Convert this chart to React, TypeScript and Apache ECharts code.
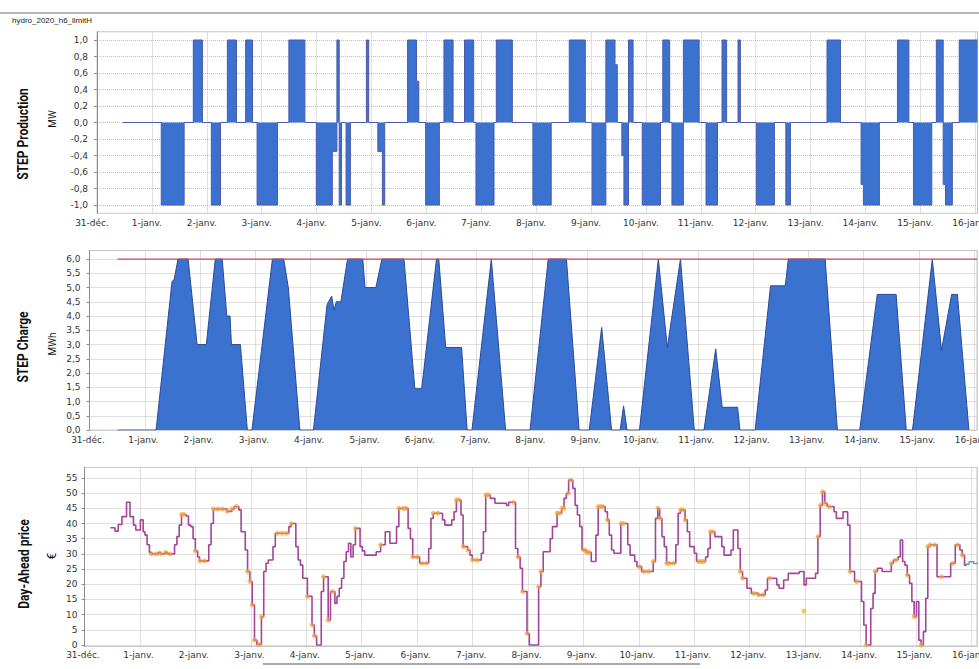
import React, { useEffect, useRef } from 'react';
import * as echarts from 'echarts';

// ---- tick labels ----
const dayLabels = [
  '31-déc.', '1-janv.', '2-janv.', '3-janv.', '4-janv.', '5-janv.', '6-janv.', '7-janv.',
  '8-janv.', '9-janv.', '10-janv.', '11-janv.', '12-janv.', '13-janv.', '14-janv.', '15-janv.', '16-janv.',
];
const productionTicks = [-1, -0.8, -0.6, -0.4, -0.2, 0, 0.2, 0.4, 0.6, 0.8, 1];
const chargeTicks = [0, 0.5, 1, 1.5, 2, 2.5, 3, 3.5, 4, 4.5, 5, 5.5, 6];
const priceTicks = [0, 5, 10, 15, 20, 25, 30, 35, 40, 45, 50, 55];

// ---- data: [hour since 31-déc. 00:00, value] (change points) ----
const productionData: [number, number][] = [
  [11.2, 0], [28.1, -1], [38.1, 0], [42.1, 1], [46.1, 0], [50, -1], [54, 0], [57, 1], [61, 0],
  [65, 1], [68, 0], [70, -1], [78.9, 0], [83.9, 1], [90.9, 0], [95.9, -1], [102.9, -0.35],
  [104.9, 1], [105.9, -1], [106.9, 0], [108.9, -1], [110.8, 0], [117.8, 1], [118.8, 0],
  [122.8, -0.35], [124.8, -1], [125.8, 0], [135.8, 1], [139.7, 0.5], [140.7, 0], [143.7, -1],
  [149.7, 0], [151.7, 1], [155.7, 0], [160.7, 1], [164.7, 0], [165.7, -1], [173.6, 0], [174.6, 1],
  [181.6, 0], [190.6, -1], [198.6, 0], [206.5, 1], [213.5, 0], [216.5, -1], [222.5, 1], [226.5, 0.7],
  [227.5, 0], [229.5, -0.4], [230.4, -1], [232.4, 1], [234.4, 0], [238.4, -1], [246.4, 0], [247.4, 1],
  [250.4, 0], [251.4, -1], [256.4, 1], [263.3, 0], [266.3, -1], [271.3, 0], [273.3, 1], [275.3, 0],
  [280.3, 1], [281.3, 0], [288.3, -1], [296.2, 0], [301.2, -1], [303.2, 0], [319.2, 1], [325.1, 0],
  [334.1, -0.75], [335.1, -1], [342.1, 0], [350, 1], [355, 0], [357, -1], [365, 0], [367, 1],
  [370, -0.75], [371, -1], [374, 0], [377, 1], [385, 1],
];

const chargeData: [number, number][] = [
  [12.1, 0], [28.9, 0], [35.8, 5.2], [36.8, 5.3], [38.4, 6], [42.8, 6], [46.7, 3], [50.7, 3],
  [54.6, 6], [57.6, 6], [59.6, 4], [61, 4], [61.6, 3], [65.5, 3], [68.5, 0], [70.5, 0], [79.4, 6],
  [84.3, 6], [86.3, 5], [91.3, 0], [97.2, 0], [103.1, 4.4], [105.1, 4.7], [106.1, 4.2], [107.1, 4.5],
  [109.1, 4.5], [112, 6], [118.6, 6], [119.6, 5], [124.3, 5], [126.9, 6], [136.5, 6], [141.2, 1.45],
  [144.2, 1.45], [150.6, 6], [151.6, 6], [154.6, 2.9], [161.5, 2.9], [163.9, 0], [166, 0], [174.4, 6],
  [180.6, 0], [191.2, 0], [199.1, 6], [207, 6], [212.5, 0], [216.9, 0], [222.3, 3.6], [226.6, 0],
  [230.3, 0], [231.8, 0.85], [233.3, 0], [238.7, 0], [246.9, 6], [250.8, 2.9], [256.5, 6], [262.5, 0],
  [266.7, 0], [271.8, 2.85], [274.6, 0.8], [281.3, 0.8], [282.3, 0], [288.9, 0], [295.6, 5.06],
  [302, 5.06], [303.3, 6], [319.3, 6], [324.6, 0], [334.3, 0], [341.9, 4.76], [350.1, 4.76],
  [354.5, 0], [357.2, 0], [365.8, 6], [369.8, 2.8], [374.2, 4.76], [376.7, 4.76], [381.7, 0],
];
const capacity = 6;
const capacityStart = 12.1;
const capacityEnd = 385.2;

const priceData: [number, number][] = [
  [11.2, 38.6], [13.2, 37.5], [14.6, 39.7], [16.2, 42.3], [18.2, 47], [19.7, 42.3], [21.2, 39.5],
  [22.2, 37.9], [24.2, 41.2], [25.4, 37.3], [26.2, 36.2], [27.1, 33], [28.1, 30.5], [29, 30],
  [32, 30.5], [33, 30], [35, 30.5], [36, 30], [39, 33], [40, 35.7], [41, 39.5], [42, 43], [44, 42.5],
  [45, 39.5], [46, 39], [47, 35], [48, 31], [49, 29], [49.8, 27.7], [53.8, 33], [54.8, 40],
  [55.8, 44.8], [61.8, 44], [63.8, 44.8], [64.8, 45.6], [66.8, 44.5], [67.8, 37.3], [69.6, 31.3],
  [70.6, 24.2], [71.6, 20.9], [72.6, 13.2], [73.6, 1.6], [74.6, 0.2], [76.6, 9.3], [77.6, 24.2],
  [78.6, 26.9], [79.6, 28], [81.6, 32.4], [82.6, 36.8], [88.5, 39], [89.5, 40], [91.5, 32.4],
  [92.5, 28], [93.5, 26.3], [94.5, 22], [96.5, 16], [98.5, 6.6], [99.5, 3], [100.5, 0], [102.5, 17.6],
  [103.5, 22.5], [105.5, 8.2], [106.5, 17.6], [108.4, 13.7], [109.3, 16], [110.3, 18.7], [111.3, 22],
  [112.3, 27.5], [113.3, 30.7], [114.3, 33.5], [115.3, 29], [116.3, 33], [117.3, 38.4], [119.3, 32.4],
  [120.3, 31], [121.3, 29.6], [126.3, 30.7], [128.2, 33], [130.2, 37.3], [132.2, 33.5], [135.1, 39],
  [136.1, 45], [140.1, 38.4], [141.1, 35], [142.1, 29], [145.1, 26.9], [149, 31.8], [150, 41.7],
  [151, 43.4], [155, 41.2], [156, 39.5], [159, 41.2], [160, 43.9], [161, 47.8], [163, 42.8],
  [163.9, 32.4], [165.9, 31.3], [166.9, 29.6], [167.9, 28], [171.8, 30.2], [172.7, 37.3],
  [173.7, 49.4], [175.7, 48.3], [177.7, 46.7], [182.7, 46], [183.7, 47], [186.6, 31.8], [187.6, 29],
  [188.6, 25.3], [189.6, 17.6], [191.6, 3.8], [192.6, 0], [196.6, 19.2], [197.6, 24.2], [198.6, 30.7],
  [201.6, 35], [202.6, 39], [204.6, 43.4], [206.6, 45], [207.6, 48.3], [208.6, 50], [209.6, 54.3],
  [211.4, 51.6], [212.4, 46], [213.4, 42.8], [214.4, 39], [215.4, 31.3], [217.4, 30.5], [219.4, 27.5],
  [221.4, 36.2], [222.4, 45.6], [225.4, 43.9], [226.4, 41.2], [227.2, 36.2], [228.2, 31.3],
  [229.2, 30.2], [232.2, 40], [235.2, 33], [236.2, 29.6], [238.2, 27.5], [239.2, 25.8], [241.2, 24.2],
  [246.2, 27.5], [247.2, 41.7], [248.2, 45], [249, 41.7], [250, 35.7], [251, 32.4], [252, 26.9],
  [256, 33], [257, 43.4], [258, 44.5], [260, 41.2], [261, 37.3], [262, 32.4], [264, 30.2], [265, 27.5],
  [268.9, 29], [269.9, 31.8], [270.9, 37.3], [272.9, 35.7], [275.9, 32.4], [276.9, 29.6], [279.9, 31.3],
  [280.9, 37.9], [282.9, 31.8], [283.9, 24.2], [284.9, 22], [286.8, 18.7], [288.7, 17], [291.7, 16.5],
  [294.7, 18.1], [295.7, 22], [299.7, 19.8], [300.7, 18.7], [302.7, 21.4], [304.7, 23.6], [309.5, 24.2],
  [311.5, 19.8], [312.5, 22], [316.5, 23.6], [317.5, 35.7], [318.5, 46], [319.5, 50.5], [320.5, 46.7],
  [321.5, 45.6], [324.5, 43.9], [325.5, 41.7], [328.4, 43.9], [330.4, 39.5], [331.4, 24.2],
  [333.4, 20.9], [336.4, 14.3], [337.4, 6.6], [338.4, 0], [340.4, 12], [341.4, 17], [342.3, 24.2],
  [343.3, 25.3], [345.3, 24.2], [349.3, 26.9], [350.2, 28], [352.2, 29], [353.2, 34.6], [354.2, 27.5],
  [355.2, 26.3], [356.2, 23], [357.2, 20.3], [358.2, 14.3], [359.2, 9.3], [360.2, 14.3], [361.2, 1.6],
  [362.2, 0], [363.2, 4.4], [364.2, 15.4], [365.1, 32.4], [366.1, 33], [369.1, 22.5], [375, 26.9],
  [377, 33], [379, 31.3], [380, 29.6], [381, 26.3], [382, 26.3],
];
const priceTailData: [number, number][] = [[381.5, 26.6], [383, 27.4], [385, 26.8], [386.4, 27.2]];
const priceMarkedHours = [
  29, 31, 33, 35, 37, 42, 43, 48, 50, 52, 55.8, 57.8, 59.8, 61.8, 63.8, 65.8, 70.6, 71.6, 72.6, 73.6,
  75.6, 76.6, 83.6, 85.6, 87.5, 89.5, 96.5, 98.5, 99.5, 103.5, 105.5, 107.4, 117.3, 128.2, 136.1,
  138.1, 139.1, 142.1, 144.1, 146.1, 148, 151, 153, 161, 162, 164, 166, 168, 170, 173.8, 174.8, 185.7,
  187.7, 189.7, 191.6, 196.6, 197.6, 204.6, 205.6, 206.6, 207.5, 209.5, 210.5, 216.4, 217.4, 218.4,
  222.4, 223.4, 224.4, 226.4, 232.3, 233.3, 240.2, 242.2, 244.2, 246.2, 248.2, 249.2, 252.1, 253.1,
  255.1, 258.1, 259.1, 260, 266, 267, 268, 271, 272, 283.9, 284.9, 289.8, 291.8, 293.8, 296.7, 317.6,
  318.6, 319.5, 320.5, 322.5, 331.4, 334.4, 338.4, 342.3, 349.3, 351.3, 356.2, 359.2, 362.2, 365.1,
  366.1, 368.1, 371, 376, 378, 380,
];
const strayPoints: [number, number][] = [[311.5, 11.2]];

// ---- helpers ----
function stepValueAt(data: [number, number][], h: number): number {
  let v = data[0][1];
  for (const [x, y] of data) {
    if (x <= h) v = y;
    else break;
  }
  return v;
}

const tickFont = { fontFamily: '"DejaVu Sans", Verdana, sans-serif', fontSize: 9, color: '#333' };
const titleFont = 'Roboto, "Noto Sans", sans-serif';
const gridLine = { show: true, lineStyle: { type: 'dotted' as const, color: '#c0c0c0', width: 1 } };
const dayFmt = (v: number) => {
  if (Math.abs(v % 24) > 1e-6) return '';
  const lbl = dayLabels[Math.round(v / 24)];
  return lbl === undefined ? '' : lbl;
};
const commaFmt = (v: number) => v.toFixed(1).replace('.', ',');

function xAxisCfg(gridIndex: number, max: number, margin: number, padding: number[]) {
  return {
    gridIndex,
    type: 'value' as const,
    min: 0,
    max,
    interval: 24,
    axisLine: { show: false },
    axisTick: { show: false },
    splitLine: gridLine,
    axisLabel: { ...tickFont, margin, formatter: dayFmt, padding },
  };
}
function yAxisCfg(gridIndex: number, min: number, max: number, ticks: number[], margin: number, fmt: (v: number) => string) {
  return {
    gridIndex,
    type: 'value' as const,
    min,
    max,
    axisLine: { show: true, lineStyle: { color: '#8c8c8c', width: 1 } },
    axisTick: { show: true, length: 3, customValues: ticks, lineStyle: { color: '#8c8c8c' } },
    axisLabel: { ...tickFont, margin, customValues: ticks, formatter: fmt },
    splitLine: gridLine,
  };
}

function vText(text: string, x: number, y: number, size: number, weight: string, squeeze: number) {
  return {
    type: 'text',
    x,
    y,
    rotation: Math.PI / 2,
    scaleX: squeeze,
    style: {
      text,
      fontFamily: titleFont,
      fontSize: size,
      fontWeight: weight,
      fill: '#111',
      align: 'center',
      verticalAlign: 'middle',
      textAlign: 'center',
      textVerticalAlign: 'middle',
    },
  };
}

export default function App() {
  const ref = useRef<HTMLDivElement>(null);
  useEffect(() => {
    if (!ref.current) return;
    const chart = echarts.init(ref.current, null, { renderer: 'svg' });
    const priceMarkers = priceMarkedHours.map((h) => [h, stepValueAt(priceData, h)]);
    const gridBase = { show: true, borderColor: '#c6c6c6', borderWidth: 1, backgroundColor: '#fff', outerBoundsMode: 'none', containLabel: false };
    const option: any = {
      animation: false,
      backgroundColor: '#fff',
      grid: [
        { ...gridBase, left: 97, top: 31.75, width: 880.5, height: 181.5 },
        { ...gridBase, left: 89.5, top: 250.5, width: 887.5, height: 179.6 },
        { ...gridBase, left: 84.5, top: 467.4, width: 892.5, height: 179.1 },
      ],
      xAxis: [
        xAxisCfg(0, 385, 5, [0, 10, 0, 0]),
        xAxisCfg(1, 385.2, 5, [0, 3, 0, 0]),
        xAxisCfg(2, 386.4, 4, [0, 3, 0, 0]),
      ],
      yAxis: [
        yAxisCfg(0, -1.1, 1.1, productionTicks, 9, commaFmt),
        yAxisCfg(1, 0, 6.3, chargeTicks, 9, commaFmt),
        yAxisCfg(2, -0.5, 58.5, priceTicks, 7, (v: number) => String(v)),
      ],
      series: [
        {
          type: 'line',
          xAxisIndex: 0,
          yAxisIndex: 0,
          step: 'end',
          data: productionData,
          showSymbol: false,
          symbol: 'none',
          lineStyle: { color: '#4a58ad', width: 1 },
          areaStyle: { color: '#3b72cf', opacity: 1 },
          silent: true,
        },
        {
          type: 'line',
          xAxisIndex: 1,
          yAxisIndex: 1,
          data: chargeData,
          showSymbol: false,
          symbol: 'none',
          lineStyle: { color: '#2b4a96', width: 1 },
          areaStyle: { color: '#3b72cf', opacity: 1 },
          silent: true,
        },
        {
          type: 'line',
          xAxisIndex: 1,
          yAxisIndex: 1,
          data: [[capacityStart, capacity], [capacityEnd, capacity]],
          showSymbol: false,
          symbol: 'none',
          lineStyle: { color: '#d4464c', width: 1.2 },
          silent: true,
          z: 3,
        },
        {
          type: 'line',
          xAxisIndex: 2,
          yAxisIndex: 2,
          step: 'end',
          data: priceData,
          showSymbol: false,
          symbol: 'none',
          lineStyle: { color: '#a4449a', width: 1.6 },
          silent: true,
        },
        {
          type: 'line',
          xAxisIndex: 2,
          yAxisIndex: 2,
          step: 'end',
          data: priceTailData,
          showSymbol: false,
          symbol: 'none',
          lineStyle: { color: '#4b9fd0', width: 1.4 },
          silent: true,
        },
        {
          type: 'scatter',
          xAxisIndex: 2,
          yAxisIndex: 2,
          data: priceMarkers,
          symbolSize: 5,
          itemStyle: { color: 'rgba(245,165,55,0.85)' },
          silent: true,
          z: 4,
        },
        {
          type: 'scatter',
          xAxisIndex: 2,
          yAxisIndex: 2,
          data: strayPoints,
          symbolSize: 5,
          itemStyle: { color: '#e9c23e' },
          silent: true,
          z: 4,
        },
      ],
      graphic: [
        { type: 'line', shape: { x1: 0, y1: 13, x2: 979, y2: 13 }, style: { stroke: '#707070', lineWidth: 1 } },
        {
          type: 'text',
          x: 12,
          y: 20,
          style: {
            text: 'hydro_2020_h6_limitH',
            fontFamily: '"Liberation Sans", Arial, sans-serif',
            fontSize: 8,
            fill: '#222',
            verticalAlign: 'middle',
            textVerticalAlign: 'middle',
          },
        },
        vText('STEP Production', 23, 134, 14, 'bold', 0.86),
        vText('MW', 52, 119, 11, 'normal', 0.9),
        vText('STEP Charge', 23, 347, 14, 'bold', 0.86),
        vText('MWh', 52, 344, 11, 'normal', 0.9),
        vText('Day-Ahead price', 24, 564, 14, 'bold', 0.86),
        vText('€', 52, 556, 12, 'normal', 1),
        { type: 'line', shape: { x1: 263, y1: 664, x2: 700, y2: 664 }, style: { stroke: '#555', lineWidth: 1 } },
      ],
    };
    chart.setOption(option);
    return () => chart.dispose();
  }, []);
  return (
    <div
      ref={ref}
      style={{ position: 'absolute', left: 0, top: 0, width: 979, height: 669, background: '#fff' }}
    />
  );
}
